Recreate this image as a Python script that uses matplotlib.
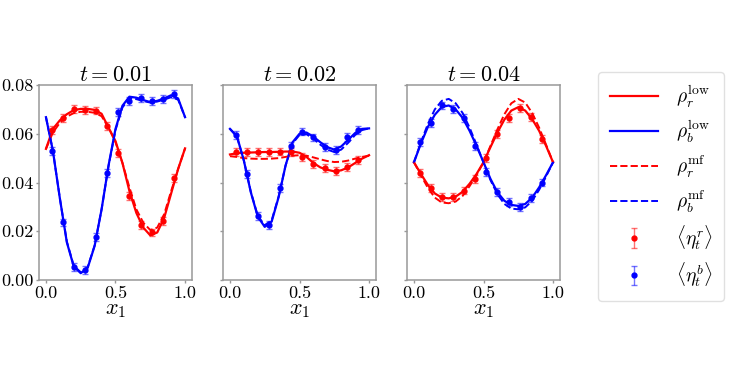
import numpy as np
import matplotlib
matplotlib.use("Agg")
import matplotlib.pyplot as plt
from matplotlib.ticker import FormatStrFormatter

plt.rcParams['font.family'] = 'serif'
plt.rcParams['font.serif'] = ['cmr10']
plt.rcParams['mathtext.fontset'] = 'cm'
plt.rcParams['axes.unicode_minus'] = False

# ---------------- data ----------------
x_grid = [0.00, 0.05, 0.10, 0.15, 0.20, 0.25, 0.30, 0.35, 0.40, 0.45, 0.50,
          0.55, 0.60, 0.65, 0.70, 0.75, 0.80, 0.85, 0.90, 0.95, 1.00]
x_pts = [0.04, 0.12, 0.20, 0.28, 0.36, 0.44, 0.52, 0.60, 0.68, 0.76, 0.84, 0.92]
titles = [r'$t = 0.01$', r'$t = 0.02$', r'$t = 0.04$']

# t = 0.01
red_low_1 = [0.0538, 0.0620, 0.0655, 0.0680, 0.0697, 0.0702, 0.0702, 0.0698, 0.0682, 0.0625, 0.0570,
             0.0480, 0.0365, 0.0275, 0.0215, 0.0183, 0.0195, 0.0255, 0.0355, 0.0455, 0.0540]
red_mf_1 = [0.0538, 0.0605, 0.0645, 0.0670, 0.0685, 0.0690, 0.0690, 0.0686, 0.0672, 0.0625, 0.0565,
            0.0480, 0.0380, 0.0290, 0.0235, 0.0205, 0.0215, 0.0270, 0.0365, 0.0455, 0.0540]
blue_low_1 = [0.0668, 0.0530, 0.0335, 0.0155, 0.0055, 0.0028, 0.0050, 0.0140, 0.0290, 0.0470, 0.0620,
              0.0715, 0.0752, 0.0748, 0.0738, 0.0730, 0.0735, 0.0745, 0.0758, 0.0745, 0.0668]
blue_mf_1 = [0.0668, 0.0530, 0.0335, 0.0158, 0.0058, 0.0032, 0.0053, 0.0142, 0.0290, 0.0468, 0.0615,
             0.0708, 0.0745, 0.0742, 0.0734, 0.0728, 0.0732, 0.0740, 0.0750, 0.0740, 0.0668]
red_pts_1 = [0.0615, 0.0665, 0.0700, 0.0698, 0.0695, 0.0632, 0.0520, 0.0346, 0.0225, 0.0195, 0.0243, 0.0417]
blue_pts_1 = [0.0528, 0.0236, 0.0052, 0.0040, 0.0175, 0.0438, 0.0690, 0.0735, 0.0748, 0.0733, 0.0743, 0.0763]

# t = 0.02
red_low_2 = [0.0515, 0.0520, 0.0522, 0.0523, 0.0524, 0.0525, 0.0525, 0.0526, 0.0527, 0.0527, 0.0522,
             0.0505, 0.0480, 0.0462, 0.0452, 0.0446, 0.0450, 0.0462, 0.0480, 0.0498, 0.0512]
red_mf_2 = [0.0508, 0.0505, 0.0500, 0.0498, 0.0497, 0.0497, 0.0498, 0.0500, 0.0505, 0.0510, 0.0512,
            0.0510, 0.0503, 0.0495, 0.0488, 0.0484, 0.0485, 0.0490, 0.0498, 0.0505, 0.0510]
blue_low_2 = [0.0620, 0.0590, 0.0490, 0.0360, 0.0260, 0.0218, 0.0240, 0.0340, 0.0470, 0.0565, 0.0600,
              0.0605, 0.0588, 0.0565, 0.0545, 0.0535, 0.0548, 0.0575, 0.0603, 0.0620, 0.0622]
blue_mf_2 = [0.0620, 0.0588, 0.0490, 0.0362, 0.0263, 0.0225, 0.0245, 0.0343, 0.0470, 0.0560, 0.0595,
             0.0598, 0.0580, 0.0555, 0.0535, 0.0525, 0.0535, 0.0563, 0.0595, 0.0615, 0.0622]
red_pts_2 = [0.0526, 0.0525, 0.0526, 0.0526, 0.0527, 0.0526, 0.0506, 0.0476, 0.0460, 0.0446, 0.0465, 0.0492]
blue_pts_2 = [0.0595, 0.0435, 0.0261, 0.0227, 0.0376, 0.0551, 0.0609, 0.0585, 0.0547, 0.0534, 0.0586, 0.0616]

# t = 0.04
red_low_3 = [0.0483, 0.0435, 0.0390, 0.0355, 0.0338, 0.0335, 0.0342, 0.0362, 0.0395, 0.0435, 0.0483,
             0.0545, 0.0605, 0.0658, 0.0695, 0.0709, 0.0695, 0.0660, 0.0612, 0.0550, 0.0483]
red_mf_3 = [0.0483, 0.0430, 0.0378, 0.0338, 0.0318, 0.0315, 0.0322, 0.0345, 0.0385, 0.0430, 0.0483,
            0.0550, 0.0618, 0.0680, 0.0725, 0.0743, 0.0728, 0.0685, 0.0625, 0.0555, 0.0483]
blue_low_3 = [0.0483, 0.0560, 0.0628, 0.0678, 0.0710, 0.0716, 0.0700, 0.0665, 0.0612, 0.0550, 0.0483,
              0.0415, 0.0360, 0.0325, 0.0308, 0.0304, 0.0312, 0.0338, 0.0380, 0.0430, 0.0483]
blue_mf_3 = [0.0483, 0.0565, 0.0640, 0.0700, 0.0735, 0.0743, 0.0725, 0.0685, 0.0625, 0.0555, 0.0483,
             0.0410, 0.0352, 0.0312, 0.0293, 0.0290, 0.0298, 0.0325, 0.0370, 0.0425, 0.0483]
red_pts_3 = [0.0438, 0.0378, 0.0339, 0.0342, 0.0367, 0.0415, 0.0500, 0.0600, 0.0663, 0.0706, 0.0668, 0.0579]
blue_pts_3 = [0.0565, 0.0643, 0.0716, 0.0702, 0.0663, 0.0551, 0.0442, 0.0360, 0.0319, 0.0301, 0.0337, 0.0400]

err_size = 0.0016

panels = [
    (red_low_1, blue_low_1, red_mf_1, blue_mf_1, red_pts_1, blue_pts_1),
    (red_low_2, blue_low_2, red_mf_2, blue_mf_2, red_pts_2, blue_pts_2),
    (red_low_3, blue_low_3, red_mf_3, blue_mf_3, red_pts_3, blue_pts_3),
]

# ---------------- figure ----------------
W, H = 747, 374
fig = plt.figure(figsize=(W / 100, H / 100), dpi=100)
lefts = [39, 223, 407]
ax_w, top, bottom = 153, 85, 280
spine_c = '0.6'
handles = None
for i, (left, data) in enumerate(zip(lefts, panels)):
    ax = fig.add_axes([left / W, 1 - bottom / H, ax_w / W, (bottom - top) / H])
    rl, bl, rm, bm, rp, bp = data
    h1, = ax.plot(x_grid, rl, color='#ff0000', lw=1.6, ls='-')
    h2, = ax.plot(x_grid, bl, color='#0000ff', lw=1.6, ls='-')
    h3, = ax.plot(x_grid, rm, color='#ff0000', lw=1.4, ls='--')
    h4, = ax.plot(x_grid, bm, color='#0000ff', lw=1.4, ls='--')
    h5 = ax.errorbar(x_pts, rp, yerr=err_size, fmt='o', color='#ff0000', ms=3.5,
                     ecolor=(1, 0, 0, 0.55), elinewidth=1, capsize=2)
    h6 = ax.errorbar(x_pts, bp, yerr=err_size, fmt='o', color='#0000ff', ms=3.5,
                     ecolor=(0, 0, 1, 0.55), elinewidth=1, capsize=2)
    handles = [h1, h2, h3, h4, h5, h6]
    ax.set_xlim(-0.05, 1.05)
    ax.set_ylim(0.0, 0.08)
    ax.set_xticks([0.0, 0.5, 1.0])
    ax.set_yticks([0.0, 0.02, 0.04, 0.06, 0.08])
    ax.xaxis.set_major_formatter(FormatStrFormatter('%.1f'))
    ax.yaxis.set_major_formatter(FormatStrFormatter('%.2f'))
    ax.tick_params(labelsize=13, color=spine_c, length=2.5, width=1, pad=1.5)
    if i > 0:
        ax.tick_params(labelleft=False)
    for s in ax.spines.values():
        s.set_color(spine_c)
        s.set_linewidth(1.1)
    ax.set_title(titles[i], fontsize=16, pad=3)
    ax.set_xlabel(r'$x_1$', fontsize=16, labelpad=0)

labels = [r'$\rho_r^{\mathrm{low}}$', r'$\rho_b^{\mathrm{low}}$',
          r'$\rho_r^{\mathrm{mf}}$', r'$\rho_b^{\mathrm{mf}}$',
          r'$\langle \eta_t^r \rangle$', r'$\langle \eta_t^b \rangle$']
leg = fig.legend(handles, labels, loc='upper left', bbox_to_anchor=(598 / W, 1 - 72 / H),
                 borderaxespad=0, fontsize=14, frameon=True, fancybox=True, edgecolor='0.85',
                 handlelength=2.5, labelspacing=0.45, borderpad=0.6, handletextpad=0.9)

fig.savefig('out.png', dpi=100)
